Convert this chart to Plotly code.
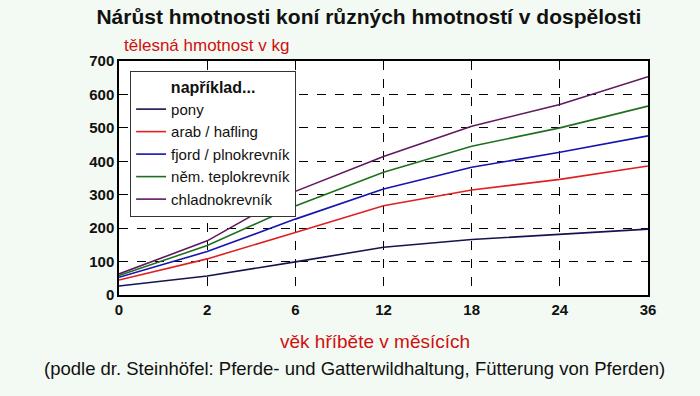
import plotly.graph_objects as go

months = ["0", "2", "6", "12", "18", "24", "36"]
series_names = ["pony", "arab / hafling", "fjord / plnokrevník", "něm. teplokrevník", "chladnokrevník"]
pony = [27, 57, 99, 143, 166, 182, 197]
arab = [45, 108, 187, 267, 314, 346, 386]
fjord = [53, 130, 227, 317, 382, 427, 476]
nem = [58, 148, 266, 367, 445, 500, 565]
chlad = [63, 162, 310, 414, 505, 570, 653]
series_values = [pony, arab, fjord, nem, chlad]
colors = ["#141450", "#E02020", "#1414B0", "#1E701E", "#601860"]
y_ticks = [0, 100, 200, 300, 400, 500, 600, 700]

fig = go.Figure()
for name, vals, col in zip(series_names, series_values, colors):
    fig.add_trace(go.Scatter(x=months, y=vals, mode="lines", name=name,
                             line=dict(color=col, width=1.6)))

axis_font = dict(family="Liberation Sans, Arial", size=15, color="#111111")
fig.update_layout(
    width=700, height=396,
    paper_bgcolor="#F3FAF3", plot_bgcolor="#FFFFFF",
    margin=dict(l=119, r=52, t=61, b=101),
    font=dict(family="Liberation Sans, Arial", color="#111111"),
    title=dict(text="<b>Nárůst hmotnosti koní různých hmotností v dospělosti</b>",
               x=0.527, xanchor="center", y=0.957, yanchor="middle",
               font=dict(size=21, color="#111111")),
    xaxis=dict(type="category", tickvals=months, ticktext=[f"<b>{m}</b>" for m in months],
               tickfont=axis_font, showgrid=True, gridcolor="#000000", griddash="dash",
               gridwidth=1, showline=True, linecolor="#000000", linewidth=1.5, mirror=True,
               ticks="", range=[0, 6], zeroline=False),
    yaxis=dict(range=[0, 700], tickvals=y_ticks, ticktext=[f"<b>{v}</b>" for v in y_ticks],
               tickfont=axis_font, showgrid=True, gridcolor="#000000", griddash="dash",
               gridwidth=1, showline=True, linecolor="#000000", linewidth=1.5, mirror=True,
               ticks="", zeroline=False),
    legend=dict(title=dict(text="<b>například...</b>", side="top center",
                           font=dict(size=16, color="#111111")),
                x=0.021, y=0.957, xanchor="left", yanchor="top",
                bgcolor="#FFFFFF", bordercolor="#333333", borderwidth=1,
                font=dict(size=15, color="#111111"), itemwidth=30,
                tracegroupgap=0),
    showlegend=True,
)
fig.add_annotation(text="tělesná hmotnost v kg", xref="paper", yref="paper",
                   x=0.006, y=1.068, xanchor="left", yanchor="middle", showarrow=False,
                   font=dict(size=17, color="#D01010"))
fig.add_annotation(text="věk hříběte v měsících", xref="paper", yref="paper",
                   x=0.484, y=-0.197, xanchor="center", yanchor="middle", showarrow=False,
                   font=dict(size=19, color="#D01010"))
fig.add_annotation(text="(podle dr. Steinhöfel: Pferde- und Gatterwildhaltung, Fütterung von Pferden)",
                   xref="paper", yref="paper", x=0.446, y=-0.312, xanchor="center", yanchor="middle",
                   showarrow=False, font=dict(size=18.5, color="#111111"))
fig.write_html("out.html", config={"displayModeBar": False},
               post_script="document.body.style.margin='0';")
